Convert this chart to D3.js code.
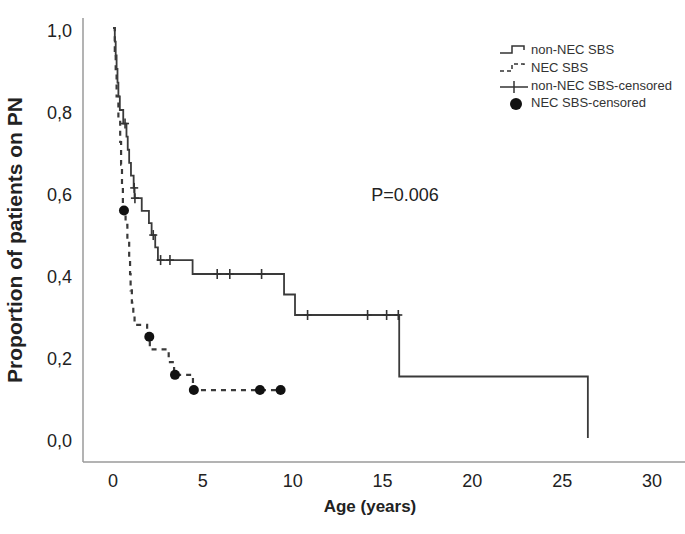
<!DOCTYPE html>
<html>
<head>
<meta charset="utf-8">
<script src="https://cdn.jsdelivr.net/npm/d3@7"></script>
<style>
  body { margin: 0; background: #fff; }
  text { font-family: "Liberation Sans", Arial, sans-serif; fill: #222; }
</style>
</head>
<body>
<div class="container"></div>
<script>

// Kaplan-Meier steps
var nonNecTimes = [0, 0.1, 0.15, 0.2, 0.25, 0.3, 0.38, 0.57, 0.75, 0.82, 0.9, 1.0, 1.15, 1.2, 1.6, 2.0, 2.15, 2.35, 2.5, 4.43, 9.52, 10.13, 15.93, 26.43];
var nonNecSurv  = [1, 0.967, 0.933, 0.9, 0.867, 0.833, 0.8, 0.767, 0.735, 0.703, 0.671, 0.64, 0.61, 0.585, 0.554, 0.524, 0.495, 0.465, 0.434, 0.40, 0.35, 0.30, 0.15, 0];

var necTimes = [0, 0.1, 0.15, 0.2, 0.3, 0.4, 0.45, 0.5, 0.55, 0.7, 0.8, 0.9, 0.95, 0.98, 1.05, 1.13, 1.2, 1.9, 2.05, 3.1, 3.4, 4.45, 9.33];
var necSurv  = [1, 0.944, 0.889, 0.833, 0.778, 0.722, 0.667, 0.611, 0.555, 0.52, 0.48, 0.44, 0.40, 0.36, 0.33, 0.305, 0.276, 0.247, 0.216, 0.185, 0.154, 0.117, 0.117];

var nonNecCensTimes = [0.67, 1.18, 1.22, 2.24, 2.65, 3.17, 5.8, 6.5, 8.27, 10.83, 14.17, 15.23, 15.88];
var nonNecCensSurv  = [0.767, 0.61, 0.585, 0.495, 0.434, 0.434, 0.40, 0.40, 0.40, 0.30, 0.30, 0.30, 0.30];

var necCensTimes = [0.61, 2.02, 3.45, 4.5, 8.18, 9.33];
var necCensSurv  = [0.555, 0.247, 0.154, 0.117, 0.117, 0.117];

var xTicks = [0, 5, 10, 15, 20, 25, 30];
var yTicks = [0, 0.2, 0.4, 0.6, 0.8, 1.0];

var legendLabels = ["non-NEC SBS", "NEC SBS", "non-NEC SBS-censored", "NEC SBS-censored"];

var W = 685, H = 534;

var svg = d3.select(".container")
            .append("svg")
            .attr("width", W)
            .attr("height", H);

var x = d3.scaleLinear().domain([0, 30]).range([113, 652]);
var y = d3.scaleLinear().domain([0, 1]).range([438, 28]);

// axes frame
svg.append("line")
   .attr("x1", 83).attr("x2", 83)
   .attr("y1", 18).attr("y2", 462)
   .style("stroke", "#9a9a9a").style("stroke-width", "1.5px");
svg.append("line")
   .attr("x1", 83).attr("x2", W)
   .attr("y1", 462).attr("y2", 462)
   .style("stroke", "#9a9a9a").style("stroke-width", "1.5px");

var fmt = function (d) { return d3.format(".1f")(d).replace(".", ","); };

svg.selectAll(".ylab")
   .data(yTicks)
   .enter().append("text")
   .attr("class", "ylab")
   .attr("x", 72)
   .attr("y", function (d) { return y(d) + 4; })
   .attr("text-anchor", "end")
   .attr("dominant-baseline", "middle")
   .style("font-size", "18px")
   .text(fmt);

svg.selectAll(".xlab")
   .data(xTicks)
   .enter().append("text")
   .attr("class", "xlab")
   .attr("x", function (d) { return x(d); })
   .attr("y", 482)
   .attr("text-anchor", "middle")
   .attr("dominant-baseline", "middle")
   .style("font-size", "18px")
   .text(function (d) { return d; });

svg.append("text")
   .attr("x", 370).attr("y", 512)
   .attr("text-anchor", "middle")
   .style("font-size", "17px")
   .style("font-weight", "bold")
   .text("Age (years)");

svg.append("text")
   .attr("transform", "translate(22,240) rotate(-90)")
   .attr("text-anchor", "middle")
   .style("font-size", "21px")
   .style("font-weight", "bold")
   .text("Proportion of patients on PN");

svg.append("text")
   .attr("x", 405).attr("y", 201)
   .attr("text-anchor", "middle")
   .style("font-size", "18px")
   .text("P=0.006");

// curves
var step = d3.line()
             .x(function (d) { return x(d[0]); })
             .y(function (d) { return y(d[1]); })
             .curve(d3.curveStepAfter);

svg.append("path")
   .datum(d3.zip(necTimes, necSurv))
   .attr("d", step)
   .style("fill", "none")
   .style("stroke", "#3a3a3a")
   .style("stroke-width", "2.2px")
   .style("stroke-dasharray", "5,5");

svg.append("path")
   .datum(d3.zip(nonNecTimes, nonNecSurv))
   .attr("d", step)
   .style("fill", "none")
   .style("stroke", "#3a3a3a")
   .style("stroke-width", "1.8px");

// censor marks
var plus = svg.selectAll(".cens")
              .data(d3.zip(nonNecCensTimes, nonNecCensSurv))
              .enter().append("g")
              .attr("class", "cens")
              .attr("transform", function (d) { return "translate(" + x(d[0]) + "," + y(d[1]) + ")"; });
plus.append("line").attr("x1", 0).attr("x2", 0).attr("y1", -5).attr("y2", 5)
    .style("stroke", "#333").style("stroke-width", "1.6px");
plus.append("line").attr("x1", -4).attr("x2", 4).attr("y1", 0).attr("y2", 0)
    .style("stroke", "#333").style("stroke-width", "1.6px");

svg.selectAll(".dot")
   .data(d3.zip(necCensTimes, necCensSurv))
   .enter().append("circle")
   .attr("class", "dot")
   .attr("cx", function (d) { return x(d[0]); })
   .attr("cy", function (d) { return y(d[1]); })
   .attr("r", 5)
   .style("fill", "#111");

// legend
var lg = svg.append("g");
var rowY = [51, 69, 87, 104];

lg.append("path")
  .attr("d", "M500," + (rowY[0] + 2) + "H512V" + (rowY[0] - 5) + "H524V" + (rowY[0] - 1))
  .style("fill", "none").style("stroke", "#333").style("stroke-width", "1.5px");
lg.append("path")
  .attr("d", "M500," + (rowY[1] + 2) + "H512V" + (rowY[1] - 5) + "H524V" + (rowY[1] - 1))
  .style("fill", "none").style("stroke", "#333").style("stroke-width", "1.5px")
  .style("stroke-dasharray", "4,3");
lg.append("line")
  .attr("x1", 500).attr("x2", 528).attr("y1", rowY[2]).attr("y2", rowY[2])
  .style("stroke", "#333").style("stroke-width", "1.5px");
lg.append("line")
  .attr("x1", 514).attr("x2", 514).attr("y1", rowY[2] - 6).attr("y2", rowY[2] + 6)
  .style("stroke", "#333").style("stroke-width", "1.5px");
lg.append("circle")
  .attr("cx", 516).attr("cy", rowY[3]).attr("r", 6)
  .style("fill", "#111");

lg.selectAll(".lgtext")
  .data(legendLabels)
  .enter().append("text")
  .attr("class", "lgtext")
  .attr("x", 531)
  .attr("y", function (d, i) { return rowY[i]; })
  .attr("dominant-baseline", "middle")
  .style("font-size", "13px")
  .style("fill", "#333")
  .text(function (d) { return d; });

</script>
</body>
</html>
